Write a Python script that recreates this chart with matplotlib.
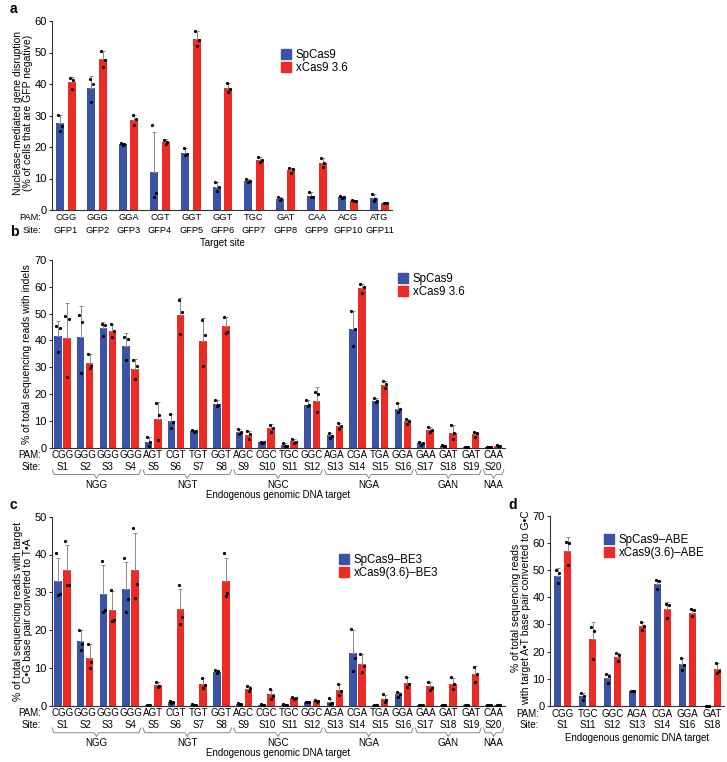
import numpy as np
import matplotlib
matplotlib.use("Agg")
import matplotlib.pyplot as plt
import matplotlib.transforms as mtransforms
from matplotlib.patches import Patch

plt.rcParams['font.family'] = ['Liberation Sans', 'DejaVu Sans']

# ---------------------------
# Daten
# ---------------------------
BLUE = '#3a53a4'
RED = '#ec2b24'
GREY = '#8a8a8a'

# Panel a
a_pam = ['CGG', 'GGG', 'GGA', 'CGT', 'GGT', 'GGT', 'TGC', 'GAT', 'CAA', 'ACG', 'ATG']
a_site = ['GFP1', 'GFP2', 'GFP3', 'GFP4', 'GFP5', 'GFP6', 'GFP7', 'GFP8', 'GFP9', 'GFP10', 'GFP11']
a_sp = [27.5, 38.6, 20.9, 12.2, 18.0, 7.4, 9.2, 3.5, 4.5, 4.2, 3.8]
a_sp_sd = [2.7, 3.9, 0.5, 12.7, 1.8, 1.6, 0.8, 0.5, 1.3, 0.4, 1.4]
a_sp_pts = [[30.2, 26.7, 25.2], [41.5, 40.0, 34.2], [21.3, 21.0, 20.5], [27.0, 5.3, 4.2],
            [19.8, 17.8, 17.6], [9.0, 7.3, 6.0], [10.0, 9.1, 8.9], [4.0, 3.5, 3.1],
            [5.6, 4.1, 4.0], [4.6, 4.1, 3.9], [5.2, 3.4, 2.9]]
a_x = [40.5, 47.8, 28.6, 21.6, 54.3, 38.7, 15.9, 12.6, 15.0, 3.0, 2.2]
a_x_sd = [1.6, 2.7, 1.7, 0.8, 2.5, 1.7, 0.8, 0.6, 1.6, 0.2, 0.1]
a_x_pts = [[42.0, 41.2, 38.5], [50.5, 47.5, 45.5], [30.2, 28.8, 26.9], [22.3, 21.6, 21.0],
           [56.8, 54.0, 52.2], [40.4, 38.3, 37.5], [16.8, 15.8, 15.2], [13.2, 13.0, 11.7],
           [16.6, 14.8, 13.6], [3.2, 3.0, 2.8], [2.3, 2.2, 2.1]]

# Panel b und c (gleiche Zielstellen)
bc_pam = ['CGG', 'GGG', 'GGG', 'GGG', 'AGT', 'CGT', 'TGT', 'GGT', 'AGC', 'CGC',
          'TGC', 'GGC', 'AGA', 'CGA', 'TGA', 'GGA', 'GAA', 'GAT', 'GAT', 'CAA']
bc_site = ['S%d' % i for i in range(1, 21)]
bc_groups = [('NGG', 0, 3), ('NGT', 4, 7), ('NGC', 8, 11), ('NGA', 12, 15), ('GAN', 16, 18), ('NAA', 19, 19)]

b_sp = [41.7, 41.2, 44.5, 37.8, 2.2, 9.8, 6.0, 16.2, 5.7, 1.9, 0.8, 15.9, 4.6, 44.2, 17.5, 14.5, 1.6, 0.6, 0.3, 0.2]
b_sp_sd = [5.5, 11.8, 2.3, 4.9, 1.6, 2.7, 0.4, 1.7, 1.1, 0.3, 0.8, 1.8, 1.0, 6.8, 0.9, 2.0, 0.6, 0.3, 0.05, 0.1]
b_sp_pts = [[45.4, 44.5, 35.7], [49.6, 46.7, 27.7], [46.0, 45.8, 41.6], [41.2, 40.5, 32.6],
            [3.8, 1.9, 0.4], [12.5, 9.4, 7.4], [6.4, 6.1, 5.9], [17.9, 15.8, 15.6],
            [6.8, 5.7, 4.9], [2.2, 1.9, 1.7], [1.6, 0.7, 0.4], [17.6, 15.8, 15.5],
            [5.6, 4.3, 3.7], [51.0, 44.2, 38.0], [18.4, 17.3, 17.0], [16.5, 14.3, 13.2],
            [2.2, 1.6, 0.9], [0.9, 0.6, 0.4], [0.3, 0.25, 0.2], [0.3, 0.2, 0.15]]
b_x = [40.9, 31.7, 43.5, 29.3, 10.5, 49.3, 39.8, 45.4, 4.8, 7.2, 2.3, 17.5, 8.0, 59.4, 23.5, 9.8, 6.6, 5.6, 5.0, 0.6]
b_x_sd = [13.0, 3.1, 2.5, 3.6, 6.5, 6.6, 8.6, 3.4, 1.4, 1.4, 0.7, 5.1, 1.3, 1.6, 1.4, 1.0, 0.9, 2.7, 0.9, 0.2]
b_x_pts = [[49.1, 47.9, 26.2], [34.8, 30.5, 29.6], [46.0, 43.5, 41.3], [32.6, 30.5, 25.4],
           [16.7, 12.0, 2.8], [55.2, 50.6, 42.4], [47.6, 42.1, 30.5], [48.8, 43.3, 42.9],
           [6.2, 4.9, 3.2], [8.4, 7.2, 5.9], [3.1, 2.2, 1.7], [20.7, 19.8, 13.1],
           [9.3, 8.0, 6.9], [61.0, 60.0, 57.8], [24.9, 23.6, 22.1], [10.6, 10.0, 8.6],
           [7.5, 6.5, 5.9], [8.4, 5.3, 3.2], [5.7, 5.3, 4.0], [0.8, 0.6, 0.5]]

c_sp = [33.0, 17.0, 29.5, 30.8, 0.1, 1.0, 0.3, 9.0, 0.5, 0.3, 0.3, 1.0, 1.0, 14.0, 0.2, 3.0, 0.2, 0.1, 0.1, 0.1]
c_sp_sd = [6.2, 3.0, 7.6, 7.3, 0.05, 0.2, 0.1, 0.4, 0.1, 0.1, 0.1, 0.1, 0.8, 6.0, 0.1, 0.6, 0.05, 0.05, 0.05, 0.05]
c_sp_pts = [[40.3, 29.5, 29.2], [20.0, 16.3, 14.7], [38.3, 25.3, 24.9], [39.2, 28.3, 24.9],
            [0.1, 0.1, 0.1], [1.2, 1.0, 0.8], [0.4, 0.3, 0.2], [9.4, 9.1, 8.6],
            [0.6, 0.5, 0.4], [0.4, 0.3, 0.2], [0.4, 0.3, 0.2], [1.1, 1.0, 0.9],
            [2.0, 0.7, 0.4], [20.3, 12.5, 9.3], [0.3, 0.2, 0.1], [3.5, 3.1, 2.4],
            [0.3, 0.2, 0.1], [0.1, 0.1, 0.1], [0.1, 0.1, 0.1], [0.1, 0.1, 0.1]]
c_x = [35.8, 12.6, 25.3, 36.0, 5.5, 25.7, 5.8, 33.0, 4.5, 3.0, 2.0, 1.2, 4.2, 11.0, 1.8, 6.1, 5.1, 5.8, 8.3, 0.2]
c_x_sd = [6.6, 3.6, 5.0, 9.7, 0.8, 5.2, 1.5, 6.2, 0.6, 1.2, 0.2, 0.2, 1.5, 2.6, 1.0, 1.4, 1.1, 1.6, 2.1, 0.05]
c_x_pts = [[43.5, 32.0, 31.8], [16.3, 11.6, 9.9], [30.7, 22.8, 22.3], [47.1, 32.3, 28.5],
           [6.3, 5.3, 5.0], [31.8, 23.5, 21.7], [7.2, 5.5, 4.8], [40.3, 29.8, 29.0],
           [5.2, 4.6, 3.8], [4.5, 2.6, 1.9], [2.2, 2.0, 1.9], [1.4, 1.2, 1.1],
           [5.8, 4.0, 2.8], [13.6, 10.5, 9.0], [3.0, 1.5, 1.0], [7.6, 5.8, 5.0],
           [6.3, 4.8, 4.2], [7.5, 5.7, 4.3], [10.3, 8.5, 6.2], [0.3, 0.2, 0.2]]

# Panel d
d_pam = ['CGG', 'TGC', 'GGC', 'AGA', 'CGA', 'GGA', 'GAT']
d_site = ['S1', 'S11', 'S12', 'S13', 'S14', 'S16', 'S18']
d_sp = [48.0, 3.5, 10.2, 5.6, 44.9, 15.3, 0.1]
d_sp_sd = [2.6, 1.2, 1.6, 0.1, 1.1, 2.2, 0.05]
d_sp_pts = [[50.2, 49.0, 45.3], [4.7, 3.6, 2.3], [11.8, 10.9, 8.4], [5.7, 5.6, 5.5],
            [46.2, 45.8, 43.2], [17.6, 15.2, 13.2], [0.15, 0.1, 0.1]]
d_x = [57.0, 24.5, 18.1, 29.3, 35.7, 34.2, 13.7]
d_x_sd = [5.0, 6.4, 1.5, 1.7, 2.6, 1.5, 2.2]
d_x_pts = [[60.4, 59.8, 51.7], [28.9, 27.6, 17.3], [19.6, 18.9, 16.6], [30.9, 29.3, 27.8],
           [37.5, 37.2, 32.3], [35.6, 35.2, 33.0], [16.0, 13.0, 12.3]]

# ---------------------------
# Hilfsfunktionen
# ---------------------------
W, H = 727, 762
fig = plt.figure(figsize=(W / 100, H / 100), dpi=100)


def px_axes(x0, x1, y_top, y_zero):
    return fig.add_axes([x0 / W, 1 - y_zero / H, (x1 - x0) / W, (y_zero - y_top) / H])


def below(ax, dy):
    # x in Daten, y = Achse minus dy Pixel
    return ax.get_xaxis_transform() + mtransforms.ScaledTranslation(0, -dy / 100, fig.dpi_scale_trans)


def draw_bars(ax, vals, sds, pts, color, off, width):
    xs = np.arange(len(vals)) + off
    ax.bar(xs, vals, width=width, color=color, zorder=2)
    ax.errorbar(xs, vals, yerr=[np.zeros(len(vals)), sds], fmt='none',
                ecolor=GREY, elinewidth=0.7, capsize=1.6, capthick=0.7, zorder=3)
    jit = np.array([-0.22, 0.22, 0.0]) * width
    for x, p in zip(xs, pts):
        ax.plot(x + jit[:len(p)], p, 'o', color='black', ms=2.3, mew=0, zorder=4, clip_on=False)


def style_axis(ax, ymax, ystep, xlim):
    ax.set_ylim(0, ymax)
    ax.set_xlim(*xlim)
    ax.set_yticks(np.arange(0, ymax + 1, ystep))
    ax.set_xticks([])
    for s in ['top', 'right']:
        ax.spines[s].set_visible(False)
    for s in ['left', 'bottom']:
        ax.spines[s].set_linewidth(0.8)
        ax.spines[s].set_color('#333333')
    ax.tick_params(axis='y', length=2.5, width=0.8, pad=1.2, labelsize=8, color='#333333')


def label_rows(ax, pams, sites, dy_pam, dy_site, dx_lab=11, fs=7.0):
    xs = np.arange(len(pams))
    for x, p, s in zip(xs, pams, sites):
        ax.text(x, 0, p, transform=below(ax, dy_pam), ha='center', va='center', fontsize=fs)
        ax.text(x, 0, s, transform=below(ax, dy_site), ha='center', va='center', fontsize=fs)
    for t, dy in [('PAM:', dy_pam), ('Site:', dy_site)]:
        tr = ax.transAxes + mtransforms.ScaledTranslation(-dx_lab / 100, -dy / 100, fig.dpi_scale_trans)
        ax.text(0, 0, t, transform=tr, ha='right', va='center', fontsize=fs)


def brackets(ax, dy_br, dy_lab, fs=7.0):
    trb = below(ax, dy_br)
    for name, i0, i1 in bc_groups:
        x0, x1 = i0 - 0.45, i1 + 0.45
        mid = (x0 + x1) / 2
        ax.plot([x0, x0 + 0.08, mid - 0.1, mid, mid + 0.1, x1 - 0.08, x1],
                [0.025, 0, 0, -0.02, 0, 0, 0.025], transform=trb,
                color=GREY, lw=0.7, clip_on=False)
        ax.text(mid, 0, name, transform=below(ax, dy_lab), ha='center', va='center', fontsize=fs)


def legend(ax, labels, x, y):
    hs = [Patch(color=BLUE), Patch(color=RED)]
    ax.legend(hs, labels, loc='upper left', bbox_to_anchor=(x / W, 1 - y / H),
              bbox_transform=fig.transFigure, frameon=False, borderpad=0,
              handlelength=0.9, handleheight=0.9, handletextpad=0.4,
              labelspacing=0.12, fontsize=8.3)


def ylab(text, x, y):
    fig.text(x / W, 1 - y / H, text, rotation=90, ha='center', va='center',
             fontsize=7.5, multialignment='center', linespacing=1.05)


# ---------------------------
# Panel a
# ---------------------------
ax_a = px_axes(52, 392, 21, 210)
draw_bars(ax_a, a_sp, a_sp_sd, a_sp_pts, BLUE, -0.186, 0.255)
draw_bars(ax_a, a_x, a_x_sd, a_x_pts, RED, 0.186, 0.255)
style_axis(ax_a, 60, 10, (-0.44, 10.4))
label_rows(ax_a, a_pam, a_site, 7, 20.5, fs=6.7)
ax_a.text(5, 0, 'Target site', transform=below(ax_a, 33), ha='center', va='center', fontsize=7.0)
legend(ax_a, ['SpCas9', 'xCas9 3.6'], 275, 43)
ylab('Nuclease-mediated gene disruption\n(% of cells that are GFP negative)', 23, 113)

# ---------------------------
# Panel b
# ---------------------------
ax_b = px_axes(52, 505, 260, 447.5)
draw_bars(ax_b, b_sp, b_sp_sd, b_sp_pts, BLUE, -0.2, 0.33)
draw_bars(ax_b, b_x, b_x_sd, b_x_pts, RED, 0.2, 0.33)
style_axis(ax_b, 70, 10, (-0.46, 19.5))
label_rows(ax_b, bc_pam, bc_site, 7.5, 19.5)
brackets(ax_b, 27, 37)
ax_b.text(9.5, 0, 'Endogenous genomic DNA target', transform=below(ax_b, 47.5),
          ha='center', va='center', fontsize=7.0)
legend(ax_b, ['SpCas9', 'xCas9 3.6'], 392, 267)
ylab('% of total sequencing reads with indels', 27, 354)

# ---------------------------
# Panel c
# ---------------------------
ax_c = px_axes(52, 505, 516.7, 705.7)
draw_bars(ax_c, c_sp, c_sp_sd, c_sp_pts, BLUE, -0.2, 0.33)
draw_bars(ax_c, c_x, c_x_sd, c_x_pts, RED, 0.2, 0.33)
style_axis(ax_c, 50, 10, (-0.46, 19.5))
label_rows(ax_c, bc_pam, bc_site, 7.5, 19.5)
brackets(ax_c, 27, 37)
ax_c.text(9.5, 0, 'Endogenous genomic DNA target', transform=below(ax_c, 47.5),
          ha='center', va='center', fontsize=7.0)
legend(ax_c, ['SpCas9–BE3', 'xCas9(3.6)–BE3'], 333, 548)
ylab('% of total sequencing reads with target\nC•G base pair converted to T•A', 23, 611)

# ---------------------------
# Panel d
# ---------------------------
ax_d = px_axes(550, 724, 515.7, 706)
draw_bars(ax_d, d_sp, d_sp_sd, d_sp_pts, BLUE, -0.2, 0.28)
draw_bars(ax_d, d_x, d_x_sd, d_x_pts, RED, 0.2, 0.28)
style_axis(ax_d, 70, 10, (-0.52, 6.48))
label_rows(ax_d, d_pam, d_site, 7.6, 19.3)
ax_d.text(3, 0, 'Endogenous genomic DNA target', transform=below(ax_d, 31.6),
          ha='center', va='center', fontsize=7.0)
legend(ax_d, ['SpCas9–ABE', 'xCas9(3.6)–ABE'], 598, 528)
ylab('% of total sequencing reads\nwith target A•T base pair converted to G•C', 521, 608)

# Panelbuchstaben
for t, x, y in [('a', 10, 9), ('b', 10, 232), ('c', 10, 505), ('d', 508, 505)]:
    fig.text(x / W, 1 - y / H, t, fontsize=10, fontweight='bold', ha='left', va='center')

fig.savefig('out.png', dpi=100)
